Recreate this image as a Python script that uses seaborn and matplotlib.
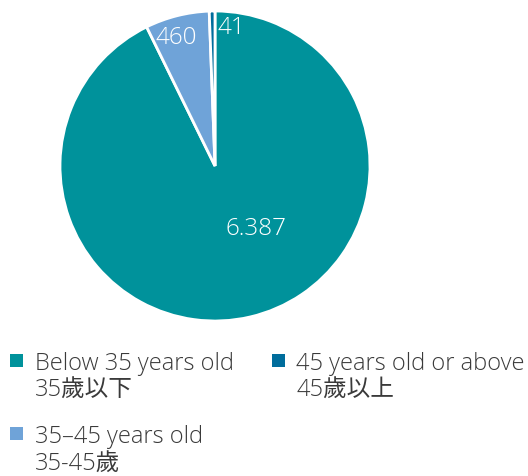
import matplotlib
matplotlib.use("Agg")
import matplotlib.pyplot as plt
import seaborn as sns
from matplotlib.legend_handler import HandlerPatch
from matplotlib.patches import Rectangle, Patch

sns.set_theme(style="white")
plt.rcParams['font.family'] = ['Open Sans', 'Noto Sans CJK TC', 'DejaVu Sans']

# data
categories = ["Below 35 years old\n35歲以下", "35–45 years old\n35-45歲", "45 years old or above\n45歲以上"]
values = [6387, 460, 41]
value_labels = ["6.387", "460", "41"]
colors = ["#00929B", "#6FA3D8", "#006D9C"]

fig = plt.figure(figsize=(5.28, 4.77), dpi=100)
ax = fig.add_axes([60/528, 1 - 322/477, 310/528, 310/477])
wedges, _ = ax.pie(values, colors=colors, startangle=90, counterclock=False,
                   wedgeprops=dict(edgecolor="white", linewidth=2))
ax.set_xlim(-1.0, 1.0)
ax.set_ylim(-1.0, 1.0)
ax.set_aspect("equal")

label_pos = [(0.265, -0.40), (-0.25, 0.83), (0.103, 0.894)]
for (x, y), t in zip(label_pos, value_labels):
    ax.text(x, y, t, color="white", fontsize=17.5, fontweight="light",
            ha="center", va="center")


class TopSquare(HandlerPatch):
    def create_artists(self, legend, orig_handle, xdescent, ydescent, width, height, fontsize, trans):
        s = 9.4
        top = height - ydescent
        p = Rectangle((-xdescent, top - s + 2.5), s, s, facecolor=orig_handle.get_facecolor(),
                      edgecolor="none", transform=trans)
        return [p]


FS = 17
handles = [Patch(facecolor=c) for c in colors]
leg = fig.legend(handles, categories, loc="upper left", bbox_to_anchor=(10/528, 1 - 352/477),
                 ncol=2, frameon=False, borderpad=0, borderaxespad=0,
                 handler_map={Patch: TopSquare()},
                 handlelength=9.4/FS, handleheight=2.3, handletextpad=8.6/FS,
                 columnspacing=27.0/FS, labelspacing=0.98,
                 prop=dict(size=FS, weight="light"))
for t in leg.get_texts():
    t.set_color("#3a3a3a")
    t.set_linespacing(1.12)

fig.savefig("out.png", dpi=100)
